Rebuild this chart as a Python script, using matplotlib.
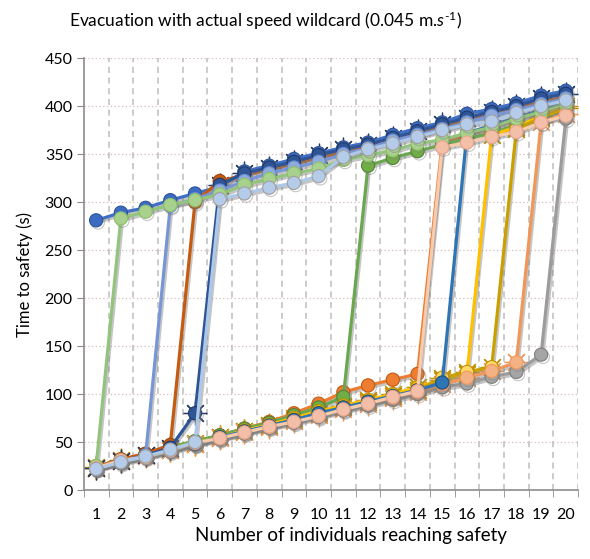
import matplotlib
matplotlib.use("Agg")
import matplotlib.pyplot as plt
import matplotlib.patheffects as pe
import numpy as np

plt.rcParams['font.family'] = ['Lato', 'DejaVu Sans']
plt.rcParams['mathtext.fontset'] = 'custom'
plt.rcParams['mathtext.rm'] = 'Lato'
plt.rcParams['mathtext.it'] = 'Lato:italic'

categories = list(range(1, 21))
title = "Evacuation with actual speed wildcard (0.045 m.$\\mathit{s}^{\\text{-1}}$)"
xlabel = "Number of individuals reaching safety"
ylabel = "Time to safety (s)"
yticks = [0, 50, 100, 150, 200, 250, 300, 350, 400, 450]

# series values (one per individual count 1..20)
s_blue = [281, 289, 294, 302, 309, 316, 332, 338, 345, 351, 357, 362, 370, 377, 383, 392, 397, 403, 411, 416]
s_gray = [22, 28, 34, 40, 47, 53, 59, 65, 70, 76, 83, 88, 94, 100, 107, 111, 118, 123, 141, 387]
s_orange = [25, 31, 37, 44, 50, 57, 64, 71, 80, 90, 102, 109, 115, 121, 362, 370, 378, 386, 394, 402]
s_green = [24, 32, 37, 45, 51, 57, 64, 70, 78, 86, 97, 338, 346, 353, 360, 366, 372, 380, 388, 396]
s_gold = [24, 31, 37, 43, 49, 55, 62, 68, 75, 82, 88, 94, 100, 107, 115, 121, 370, 378, 390, 400]
s_lgold = [23, 30, 36, 42, 48, 55, 61, 67, 73, 80, 86, 92, 98, 104, 117, 123, 128, 376, 388, 398]
s_salmon = [23, 30, 35, 42, 48, 54, 60, 66, 72, 78, 84, 90, 96, 102, 110, 117, 124, 133, 383, 392]
s_steel = [23, 30, 36, 42, 48, 55, 61, 67, 73, 80, 86, 92, 98, 104, 112, 372, 380, 388, 396, 404]
s_dorange = [24, 32, 38, 47, 300, 322, 328, 334, 340, 346, 352, 358, 364, 372, 378, 385, 391, 398, 404, 410]
s_dblue = [23, 30, 36, 44, 80, 318, 330, 336, 342, 349, 355, 360, 367, 374, 381, 388, 394, 400, 408, 413]
s_mblue = [22, 30, 36, 296, 303, 312, 322, 330, 336, 342, 350, 356, 364, 370, 376, 383, 390, 396, 402, 408]
s_lgreen = [25, 283, 290, 297, 302, 308, 318, 324, 330, 335, 344, 349, 354, 361, 365, 372, 378, 387, 394, 403]
s_pink = [23, 31, 34, 41, 49, 54, 60, 66, 71, 77, 84, 90, 97, 103, 357, 362, 368, 373, 383, 390]
s_lblue = [22, 29, 35, 42, 50, 303, 309, 315, 320, 327, 347, 355, 361, 368, 375, 381, 384, 393, 400, 406]

# (values, line colour, marker face, marker edge, star marker?)
series = [
    (s_blue, '#3F6FC6', '#3C6BC4', '#2F5597', False),
    (s_gray, '#9C9C9C', '#A5A5A5', '#7F7F7F', False),
    (s_orange, '#ED7D31', '#ED7D31', '#C55A11', False),
    (s_green, '#6AA84F', '#70AD47', '#548235', False),
    (s_gold, '#FFC000', '#FFC000', '#BF9000', True),
    (s_lgold, '#C9A000', '#FFD966', '#BF9000', True),
    (s_salmon, '#F1975A', '#F4B183', '#F1975A', True),
    (s_steel, '#2E75B6', '#2E75B6', '#1F4E79', False),
    (s_dorange, '#C55A11', '#C55A11', '#9E480E', False),
    (s_dblue, '#2F5597', '#2F5597', '#203864', True),
    (s_mblue, '#7896D6', '#8FAADC', '#698ED0', False),
    (s_lgreen, '#93C47D', '#A9D18E', '#8CC168', False),
    (s_pink, '#F8CBAD', '#F4BFA8', '#E8A58A', False),
    (s_lblue, '#ADC8E8', '#B4CBEA', '#A0A0A0', False),
]

fig = plt.figure(figsize=(5.9, 5.59), dpi=100)
ax = fig.add_axes([0.142, 0.1234, 0.838, 0.7726])

shadow = [pe.SimpleLineShadow(offset=(1.2, -1.6), shadow_color='#808080', alpha=0.45), pe.Normal()]

for vals, lc, fc, ec, star in series:
    if star:
        ax.plot(categories, vals, linestyle='none', marker=(8, 2, 0), markersize=17,
                markeredgecolor=ec, markeredgewidth=0.9, zorder=2)
    ax.plot(categories, vals, color=lc, linewidth=2.3, marker='o', markersize=9.5,
            markerfacecolor=fc, markeredgecolor=ec, markeredgewidth=0.8,
            path_effects=shadow, zorder=3)

ax.set_xlim(0.5, 20.5)
ax.set_ylim(0, 450)
ax.set_yticks(yticks)
ax.set_xticks(categories)
ax.set_xticks(np.arange(0.5, 21, 1), minor=True)
ax.tick_params(axis='x', which='major', length=0, pad=13, labelsize=11.5)
ax.tick_params(axis='x', which='minor', length=5, color='#8c8c8c', direction='out')
ax.tick_params(axis='y', length=5, color='#8c8c8c', labelsize=11.5, pad=3)

ax.grid(False)
for y in yticks[1:]:
    ax.axhline(y, color='#dcbcbc', linestyle=(0, (1, 2)), linewidth=0.9, zorder=0)
for x in np.arange(1.5, 21, 1):
    ax.axvline(x, color='#bdbdbd', linestyle=(0, (4, 3)), linewidth=1.1, zorder=0)

for side in ['top', 'right']:
    ax.spines[side].set_visible(False)
for side in ['left', 'bottom']:
    ax.spines[side].set_color('#8c8c8c')
    ax.spines[side].set_linewidth(1.2)

ax.set_xlabel(xlabel, fontsize=13.5, labelpad=4)
ax.xaxis.set_label_coords(0.54, -0.085)
ax.set_ylabel(ylabel, fontsize=12, labelpad=8)
fig.text(0.45, 0.963, title, ha='center', va='center', fontsize=12.5)

fig.savefig('out.png', dpi=100)
